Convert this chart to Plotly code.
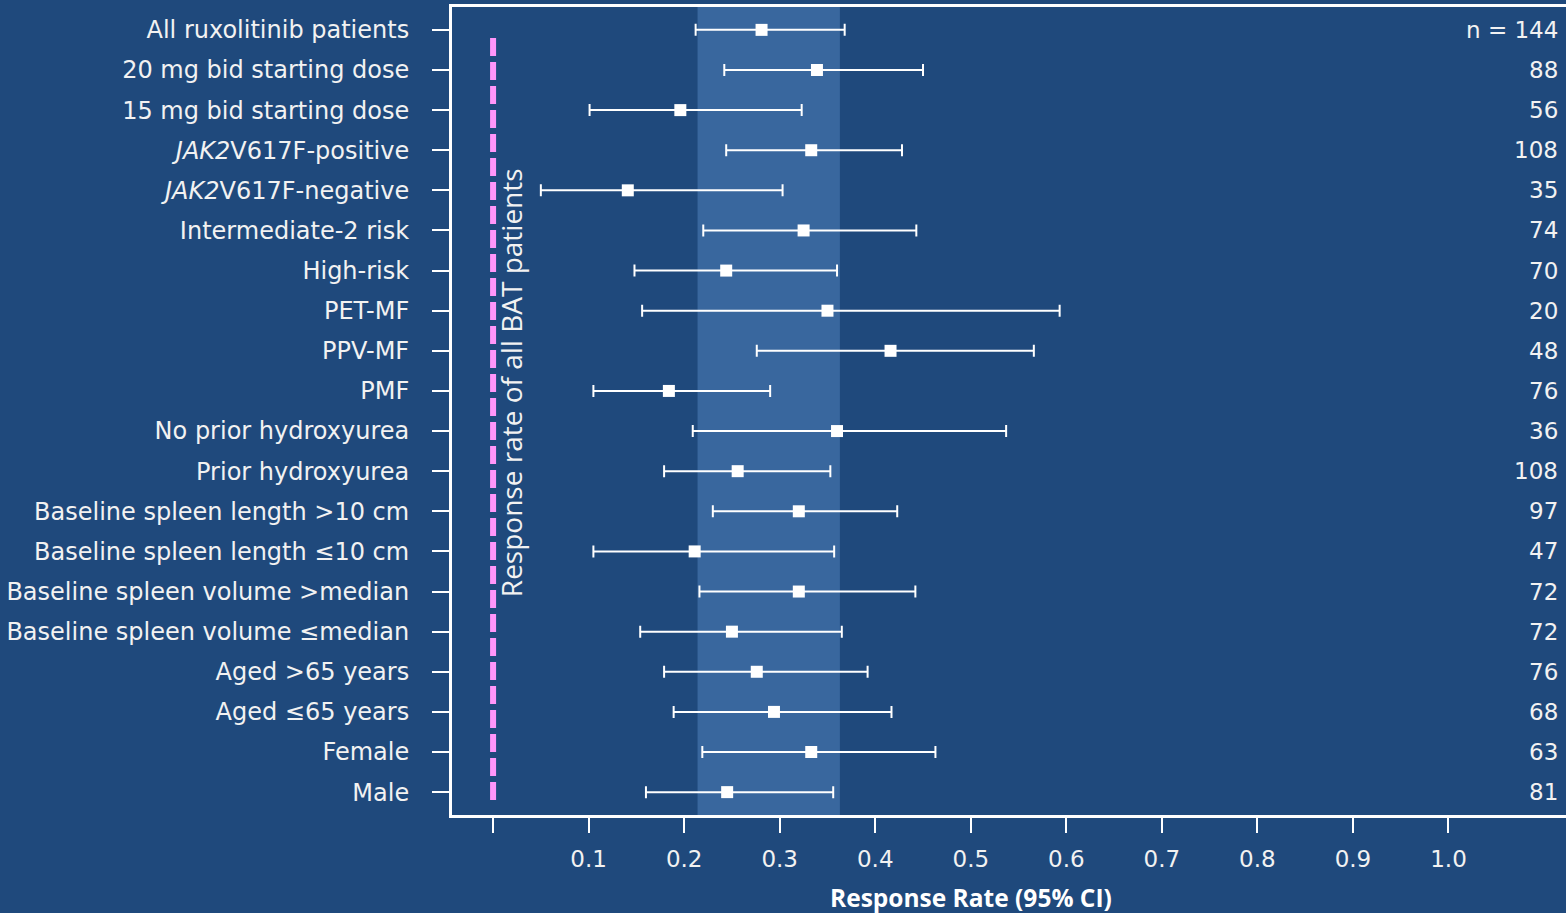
import plotly.graph_objects as go

categories = [
    "All ruxolitinib patients",
    "20 mg bid starting dose",
    "15 mg bid starting dose",
    "<i>JAK2</i>V617F-positive",
    "<i>JAK2</i>V617F-negative",
    "Intermediate-2 risk",
    "High-risk",
    "PET-MF",
    "PPV-MF",
    "PMF",
    "No prior hydroxyurea",
    "Prior hydroxyurea",
    "Baseline spleen length >10 cm",
    "Baseline spleen length \u226410 cm",
    "Baseline spleen volume >median",
    "Baseline spleen volume \u2264median",
    "Aged >65 years",
    "Aged \u226465 years",
    "Female",
    "Male",
]
rate = [0.281, 0.339, 0.196, 0.333, 0.141, 0.325, 0.244, 0.350, 0.416, 0.184,
        0.360, 0.256, 0.320, 0.211, 0.320, 0.250, 0.276, 0.294, 0.333, 0.245]
ci_low = [0.212, 0.242, 0.101, 0.244, 0.050, 0.220, 0.148, 0.156, 0.276, 0.105,
          0.209, 0.179, 0.230, 0.105, 0.216, 0.154, 0.179, 0.189, 0.219, 0.160]
ci_high = [0.368, 0.450, 0.323, 0.428, 0.303, 0.443, 0.360, 0.593, 0.566, 0.290,
           0.537, 0.353, 0.423, 0.357, 0.442, 0.365, 0.392, 0.417, 0.463, 0.356]
n_labels = ["n = 144", "88", "56", "108", "35", "74", "70", "20", "48", "76",
            "36", "108", "97", "47", "72", "72", "76", "68", "63", "81"]
overall_ci = [0.214, 0.363]
bat_rate = 0.0
x_tickvals = [0.0, 0.1, 0.2, 0.3, 0.4, 0.5, 0.6, 0.7, 0.8, 0.9, 1.0]
x_ticktext = ["", "0.1", "0.2", "0.3", "0.4", "0.5", "0.6", "0.7", "0.8", "0.9", "1.0"]

BG = "rgb(31,73,124)"
BAND = "rgb(57,103,158)"
PINK = "rgb(255,150,250)"
WHITE = "white"
TXT = "rgb(242,242,242)"
FONT = "Open Sans"
LABFONT = "DejaVu Sans"

ypos = list(range(len(categories)))
err_plus = [h - r for h, r in zip(ci_high, rate)]
err_minus = [r - l for r, l in zip(rate, ci_low)]

fig = go.Figure()

fig.add_trace(go.Scatter(
    x=rate, y=ypos, mode="markers",
    marker=dict(symbol="square", size=12, color=WHITE, line=dict(width=0)),
    error_x=dict(type="data", symmetric=False, array=err_plus, arrayminus=err_minus,
                 color=WHITE, thickness=2, width=6),
    showlegend=False, hoverinfo="skip",
))

# shaded band: CI of all ruxolitinib patients
fig.add_shape(type="rect", xref="x", yref="paper", x0=overall_ci[0], x1=overall_ci[1],
              y0=0, y1=1, fillcolor=BAND, line=dict(width=0), layer="below")

# BAT response rate reference line
fig.add_shape(type="line", xref="x", yref="y", x0=bat_rate, x1=bat_rate,
              y0=0.2, y1=19.2, line=dict(color=PINK, width=6, dash="18px,6px"))

fig.add_annotation(x=0.019, xref="x", y=8.8, yref="y", text="Response rate of all BAT patients",
                   textangle=-90, showarrow=False, font=dict(family=FONT, size=28, color=TXT),
                   xanchor="center", yanchor="middle")

for i, t in enumerate(n_labels):
    fig.add_annotation(x=0.995, xref="paper", y=ypos[i], yref="y", text=t, showarrow=False,
                       xanchor="right", yanchor="middle",
                       font=dict(family=LABFONT, size=23, color=TXT))

fig.add_annotation(x=0.466, xref="paper", y=-0.1015, yref="paper",
                   text="<b>Response Rate (95% CI)</b>", showarrow=False,
                   xanchor="center", yanchor="middle",
                   font=dict(family=FONT, size=24.5, color=WHITE))

fig.update_layout(
    width=1566, height=913,
    margin=dict(l=452, r=0, t=7, b=98, pad=0),
    paper_bgcolor=BG, plot_bgcolor=BG,
    font=dict(family=FONT, color=TXT),
    xaxis=dict(
        range=[-0.043, 1.123], tickvals=x_tickvals, ticktext=x_ticktext,
        showgrid=False, zeroline=False,
        showline=True, linecolor=WHITE, linewidth=3, mirror=True,
        ticks="outside", ticklen=15, tickwidth=2, tickcolor=WHITE,
        ticklabelstandoff=6,
        tickfont=dict(family=LABFONT, size=23, color=TXT),
    ),
    yaxis=dict(
        range=[19.57, -0.57], tickvals=ypos, ticktext=categories,
        showgrid=False, zeroline=False,
        showline=True, linecolor=WHITE, linewidth=3, mirror=False,
        ticks="outside", ticklen=17, tickwidth=2, tickcolor=WHITE,
        ticklabelstandoff=18,
        tickfont=dict(family=LABFONT, size=24, color=TXT),
    ),
)

fig.write_html("out.html", config={"displayModeBar": False},
               post_script="document.body.style.margin='0';document.body.style.background='" + BG + "';")
